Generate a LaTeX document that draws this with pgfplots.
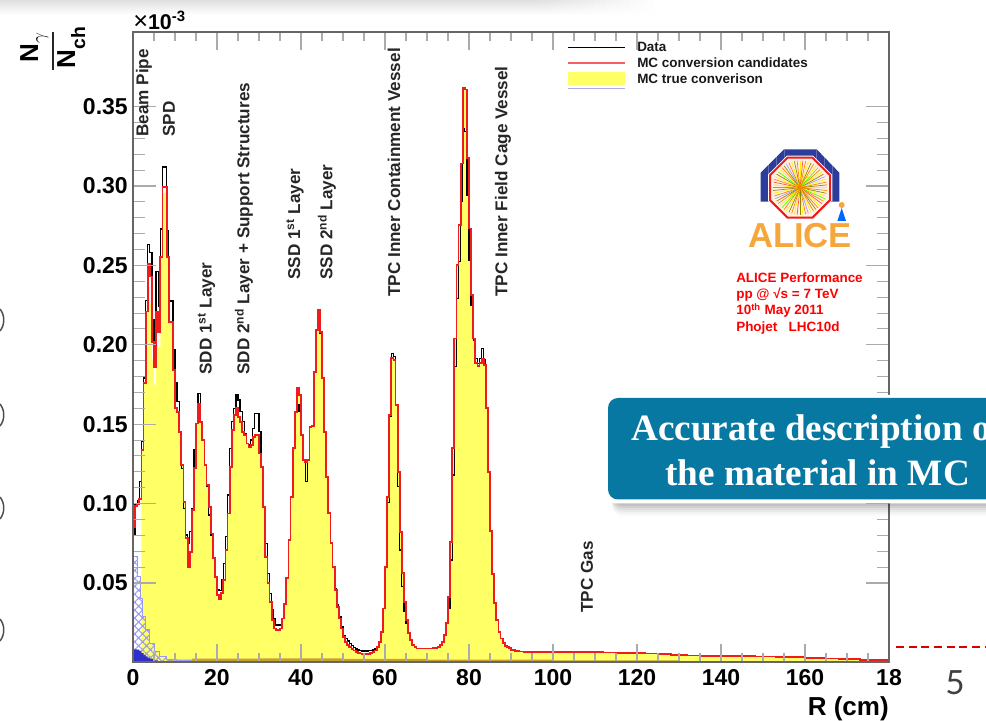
\documentclass[border=0pt]{standalone}
\usepackage{fontspec}
\setmainfont{Liberation Sans}
\newfontfamily\serifb{Liberation Serif}
\newfontfamily\latof{Lato}
\usepackage{pgfplots}
\usepackage{pgfplotstable}
\pgfplotsset{compat=1.18}
\usetikzlibrary{patterns.meta}
\definecolor{rootred}{HTML}{EE1C1C}
\definecolor{rootyellow}{HTML}{FFFF66}
\definecolor{hatch}{HTML}{9A9AF0}
\definecolor{solidblue}{HTML}{3030C8}
\definecolor{bandbrown}{HTML}{C8A030}
\definecolor{teal}{HTML}{0778A2}
\definecolor{axisgray}{HTML}{666666}
\definecolor{tickgray}{HTML}{ABABAB}
\definecolor{aliceorange}{HTML}{F7A63C}
\definecolor{aliceblue}{HTML}{2B3C9B}
\newcommand{\fs}[1]{\fontsize{#1}{#1}\selectfont\bfseries}
% x  data  mc  true
\pgfplotstableread{
x data mc tr
0 .0802 .0855 0
0.5 .100 .0985 0
1 .102 .100 0
1.5 .114 .103 0
2 .139 .134 .134
2.5 .179 .176 .176
3 .228 .221 .221
3.5 .263 .251 .2366
4 .258 .243 .226
4.5 .2156 .202 .190
5 .202 .186 .175
5.5 .246 .221 .200
6 .224 .208 .198
6.5 .273 .2555 .2555
7 .312 .2996 .2955
7.5 .312 .2996 .2955
8 .272 .2555 .2555
8.5 .228 .2146 .2146
9 .2275 .2146 .2146
9.5 .197 .184 .184
10 .176 .160 .160
10.5 .1642 .1579 .1579
11 .1453 .1453 .1453
11.5 .1222 .1243 .1243
12 .097 .1012 .1012
12.5 .0802 .0781 .0781
13 .0749 .0603 .0603
13.5 .0823 .0697 .0697
14 .097 .0959 .0959
14.5 .1337 .1222 .1222
15 .1505 .1505 .1505
15.5 .1694 .1631 .1631
16 .1516 .1516 .1516
16.5 .140 .140 .140
17 .1243 .1243 .1243
17.5 .1106 .1117 .1117
18 .0928 .098 .098
18.5 .0802 .0812 .0812
19 .0655 .0655 .0655
19.5 .054 .054 .054
20 .0456 .0424 .0424
20.5 .0451 .0397 .0397
21 .0519 .0435 .0435
21.5 .0623 .0519 .0519
22 .0791 .0707 .0707
22.5 .1054 .0938 .0938
23 .1348 .1232 .1232
23.5 .1516 .1463 .1463
24 .160 .1558 .1558
24.5 .1684 .160 .160
25 .1652 .1547 .1547
25.5 .1579 .1516 .1516
26 .1516 .1453 .1453
26.5 .1442 .1432 .1432
27 .1379 .1379 .1379
27.5 .1369 .1358 .1358
28 .140 .1369 .1369
28.5 .1474 .1421 .1421
29 .1568 .1432 .1432
29.5 .1568 .1432 .1432
30 .1453 .1316 .1316
30.5 .1232 .1232 .1232
31 .0981 .0981 .0981
31.5 .075 .0666 .0666
32 .0561 .0498 .0498
32.5 .0435 .0382 .0382
33 .033 .0267 .0267
33.5 .0277 .0214 .0214
34 .0235 .0204 .0204
34.5 .0235 .0204 .0204
35 .0235 .0214 .0214
35.5 .0277 .0277 .0277
36 .0368 .0368 .0368
36.5 .0529 .0529 .0529
37 .0771 .0771 .0771
37.5 .1044 .1044 .1044
38 .1348 .1348 .1348
38.5 .1579 .1579 .1579
39 .1621 .1726 .1726
39.5 .1579 .1684 .1684
40 .1432 .1432 .1432
40.5 .1274 .1274 .1274
41 .1138 .1264 .1264
41.5 .1274 .1274 .1274
42 .1484 .1484 .1484
42.5 .1489 .1489 .1489
43 .1831 .1831 .1831
43.5 .2093 .2093 .2093
44 .2104 .2219 .2219
44.5 .2072 .2083 .2083
45 .1789 .1789 .1789
45.5 .1453 .1453 .1453
46 .1169 .1169 .1169
46.5 .0939 .0939 .0939
47 .075 .075 .075
47.5 .0603 .0603 .0603
48 .0466 .0456 .0456
48.5 .0361 .0351 .0351
49 .0287 .0277 .0277
49.5 .0224 .0214 .0214
50 .017 .016 .016
50.5 .015 .013 .013
51 .0135 .0112 .0112
51.5 .012 .0098 .0098
52 .0105 .0085 .0085
52.5 .0095 .0075 .0075
53 .0085 .0067 .0067
53.5 .0078 .006 .006
54 .0073 .0056 .0056
54.5 .0072 .0054 .0054
55 .0072 .0053 .0053
55.5 .0072 .0053 .0053
56 .0073 .0055 .0055
56.5 .0075 .0058 .0058
57 .0078 .0063 .0063
57.5 .0085 .0075 .0075
58 .010 .0095 .0095
58.5 .013 .013 .013
59 .0193 .0193 .0193
59.5 .034 .034 .034
60 .0603 .0603 .0603
60.5 .1006 .1043 .1043
61 .1548 .1558 .1558
61.5 .1946 .1915 .1915
62 .1925 .1904 .1904
62.5 .1621 .1621 .1621
63 .1106 .1201 .1201
63.5 .0708 .0823 .0823
64 .0477 .0561 .0561
64.5 .0319 .0382 .0382
65 .0246 .0267 .0267
65.5 .0183 .0183 .0183
66 .0141 .0141 .0141
66.5 .0109 .0109 .0109
67 .0099 .0099 .0099
67.5 .0088 .0088 .0088
70 .0088 .0088 .0088
71.5 .009 .009 .009
72 .0092 .0092 .0092
72.5 .0099 .0099 .0099
73 .0109 .0109 .0109
73.5 .013 .013 .013
74 .0172 .0172 .0172
74.5 .0246 .0246 .0246
75 .034 .0414 .0414
75.5 .0645 .076 .076
76 .118 .1348 .1348
76.5 .1862 .204 .204
77 .2292 .2502 .2502
77.5 .2523 .2754 .2754
78 .2901 .3142 .3142
78.5 .3363 .3621 .3621
79 .3342 .3608 .3608
79.5 .2943 .3174 .3174
80 .2534 .2733 .2733
80.5 .225 .2313 .2313
81 .203 .204 .204
81.5 .1914 .1883 .1883
82 .1883 .1868 .1868
82.5 .1914 .1883 .1883
83 .1977 .1914 .1914
83.5 .1904 .1872 .1872
84 .160 .160 .160
84.5 .1201 .1201 .1201
85 .0829 .0829 .0829
85.5 .0556 .0556 .0556
86 .0372 .0372 .0372
86.5 .0267 .0267 .0267
87 .0193 .0193 .0193
87.5 .0151 .0151 .0151
88 .012 .012 .012
88.5 .0105 .0105 .0105
89 .0099 .0099 .0099
89.5 .009 .009 .009
90 .0078 .0078 .0078
91 .0072 .0072 .0072
92 .0069 .0069 .0069
93 .0067 .0067 .0067
95 .0066 .0066 .0066
97 .0065 .0065 .0065
99 .0064 .0064 .0064
101 .0064 .0064 .0064
103 .0066 .0065 .0065
105 .0066 .0066 .0066
107 .0064 .0064 .0064
110 .0063 .0063 .0063
112 .0062 .0062 .0062
115 .0061 .0061 .0061
118 .006 .006 .006
120 .0059 .0059 .0059
122 .0056 .0056 .0056
125 .0051 .0051 .0051
128 .0047 .0047 .0047
130 .0045 .0045 .0045
132 .0044 .0044 .0044
135 .0043 .0042 .0042
138 .004 .004 .004
140 .0039 .0039 .0039
143 .0039 .0038 .0038
145 .0038 .0038 .0038
148 .0037 .0037 .0037
150 .0037 .0037 .0037
153 .0035 .0035 .0035
155 .0034 .0034 .0034
158 .0032 .0032 .0032
160 .003 .003 .003
163 .0027 .0027 .0027
165 .0024 .0024 .0024
168 .0021 .0021 .0021
170 .0019 .0019 .0019
173 .0017 .0017 .0017
175 .0015 .0015 .0015
178 .0013 .0013 .0013
180 .0011 .0011 .0011
}\hist
\begin{document}
\begin{tikzpicture}
\useasboundingbox (0,0) rectangle (739.5pt,540.75pt);
\clip (0,0) rectangle (739.5pt,540.75pt);
% screenshot band at the top
\begin{scope}[x=.75pt,y=-.75pt,shift={(0,540.75pt)}]
\shade[top color=black!12,bottom color=white] (0,0) rectangle (660,15);
\foreach \i in {0,...,19}
  \fill[white,opacity=\i*0.05+0.05] (540+\i*6,0) rectangle (546+\i*6,15);
\fill[white] (660,0) rectangle (670,15);
\end{scope}
\begin{axis}[
  at={(99.75pt,43.95pt)},anchor=south west,scale only axis,
  width=567pt,height=472.8pt,
  xmin=0,xmax=180,ymin=0,ymax=.397,
  axis on top,
  axis line style={draw=axisgray,line width=1.4pt},
  xtick=\empty,
  ytick={.05,.10,.15,.20,.25,.30,.35},
  minor y tick num=4,
  major tick length=17.25pt,minor tick length=9pt,
  ytick pos=both,yticklabel pos=left,
  tick style={draw=tickgray,line width=.8pt},
  yticklabel style={font=\fs{17.25},inner sep=0pt,xshift=-3.75pt,
    /pgf/number format/.cd,fixed,fixed zerofill,precision=2,assume math mode=true},
  scaled y ticks=false,
]
\addplot[const plot,draw=none,fill=rootyellow] table[x=x,y=tr] {\hist} \closedcycle;
\addplot[const plot,draw=none,fill=bandbrown] coordinates {(8,.0012)(10,.0018)(14,.0024)(30,.0026)(50,.0022)(70,.0018)(100,.0012)(130,.0008)} \closedcycle;
\addplot[const plot,draw=hatch,line width=.8pt,pattern={Lines[angle=45,distance=4.2pt,line width=.8pt]},pattern color=hatch] coordinates {(0,.0666)(1,.054)(1.7,.0403)(2.3,.0288)(2.9,.0204)(4,.012)(5.2,.0067)(6.4,.0036)(8,.0019)(10.4,.0012)(14,.0006)} \closedcycle;
\addplot[const plot,draw=hatch,line width=.8pt,pattern={Lines[angle=-45,distance=4.2pt,line width=.8pt]},pattern color=hatch] coordinates {(0,.0666)(1,.054)(1.7,.0403)(2.3,.0288)(2.9,.0204)(4,.012)(5.2,.0067)(6.4,.0036)(8,.0019)(10.4,.0012)(14,.0006)} \closedcycle;
\addplot[const plot,draw=none,fill=solidblue] coordinates {(0,.0082)(1,.008)(1.5,.0072)(2,.006)(2.5,.0048)(3,.0038)(3.5,.003)(4,.0022)(5,.0012)(6,.0007)(8,.0005)} \closedcycle;
\addplot[draw=solidblue!60!tickgray,line width=.8pt] coordinates {(0,.0004)(180,.0004)};
\addplot[const plot,draw=black,line width=1pt] table[x=x,y=data] {\hist};
\addplot[const plot,draw=rootred,line width=1.35pt] table[x=x,y=mc] {\hist};
\end{axis}
% x ticks
\begin{axis}[
  at={(99.75pt,43.95pt)},anchor=south west,scale only axis,
  width=567pt,height=472.8pt,
  xmin=0,xmax=180,ymin=0,ymax=.397,
  axis line style={draw=axisgray,line width=1.4pt},
  ytick=\empty,
  xtick={0,20,40,60,80,100,120,140,160,180},
  xticklabels={0,20,40,60,80,100,120,140,160,18\hspace{12.5pt}},
  minor x tick num=3,
  major tick length=13.5pt,minor tick length=6.75pt,
  xtick pos=both,xticklabel pos=lower,
  tick style={draw=tickgray,line width=.8pt},
  xticklabel style={font=\fs{17.25},inner sep=0pt,yshift=-5.25pt},
]
\end{axis}
\begin{scope}[x=.75pt,y=-.75pt,shift={(0,540.75pt)}]
% legend
\draw[black,line width=.8pt] (568,47.3) -- (625,47.3);
\draw[rootred!70,line width=1.1pt] (568,63) -- (625,63);
\fill[rootyellow] (568,72.5) rectangle (625,85);
\draw[solidblue!40,line width=.6pt] (568,88.5) -- (625,88.5);
\tikzset{lg/.style={anchor=base west,inner sep=0pt,font=\fs{10.1},text=black!90}}
\node[lg] at (637,52) {Data};
\node[lg] at (637,68) {MC conversion candidates};
\node[lg] at (637,84) {MC true converison};
% labels
\node[anchor=north east,font=\fs{19.5},inner sep=0pt] at (889,696) {R (cm)};
\node[anchor=base west,inner sep=0pt] at (133,30) {{\fontsize{19}{19}\selectfont ×}{\fontsize{16}{16}\selectfont\bfseries 10\textsuperscript{-3}}};
% y-axis title
\tikzset{yl/.style={rotate=90,anchor=base west,inner sep=0pt,font=\fs{19.5}}}
\node[yl] at (38,62.5) {N\raisebox{-5pt}{$\scriptstyle\gamma$}};
\draw[black!85,line width=1.4pt] (53,32) -- (53,70);
\node[yl] at (75,68.5) {N\raisebox{-7.5pt}{\fs{14.5}ch}};
% detector labels
\tikzset{det/.style={rotate=90,anchor=west,inner sep=0pt,font=\fs{12.85},text=black!85}}
\node[det] at (144,137) {Beam Pipe};
\node[det] at (169,137) {SPD};
\node[det] at (206.5,375) {SDD 1\textsuperscript{st} Layer};
\node[det] at (244,375) {SDD 2\textsuperscript{nd} Layer + Support Structures};
\node[det] at (295,280) {SSD 1\textsuperscript{st} Layer};
\node[det] at (327,280) {SSD 2\textsuperscript{nd} Layer};
\node[det] at (394,297) {TPC Inner Containment Vessel};
\node[det] at (503,297) {TPC Inner Field Cage Vessel};
\node[det] at (587,613) {TPC Gas};
% ALICE logo
\fill[aliceblue] (760.7,201.7) -- (760.7,172.7) -- (784,149.3) -- (816.7,149.3) -- (839.3,172.7) -- (839.3,201.7) -- cycle;
\foreach \v in {768,776,784,816,824,832}
  \draw[white,opacity=.25,line width=.3pt] (\v,150) -- (\v,201.7);
\fill[white] (787,155.7) -- (813,155.7) -- (832,174.7) -- (832,200.7) -- (813,219.7) -- (787,219.7) -- (768,200.7) -- (768,174.7) -- cycle;
\fill[orange!12] (787.6,157.7) -- (812.4,157.7) -- (830,175.3) -- (830,200.1) -- (812.4,217.7) -- (787.6,217.7) -- (770,200.1) -- (770,175.3) -- cycle;
\foreach \a/\c in {0/yellow,6/orange,12/olive,18/yellow,24/green!70!yellow,30/orange,36/red!70,42/yellow,48/orange,54/olive,60/orange,66/yellow,72/blue!40,78/orange,84/yellow,90/olive,96/red!70,102/yellow,108/orange,114/olive,120/yellow,126/orange,132/green!70!yellow,138/yellow,144/orange,150/olive,156/blue!40,162/orange,168/yellow,174/olive,180/orange,186/yellow,192/red!70,198/orange,204/yellow,210/olive,216/green!70!yellow,222/yellow,228/orange,234/olive,240/blue!40,246/orange,252/yellow,258/olive,264/orange,270/yellow,276/red!70,282/orange,288/yellow,294/olive,300/orange,306/yellow,312/green!70!yellow,318/orange,324/yellow,330/olive,336/blue!40,342/yellow,348/orange,354/olive}
  \draw[\c,line width=.5pt] (800,187.7) -- ++(\a:27);
\fill[orange] (800,187.7) circle (3);
\draw[rootred,line width=1.5pt] (787.6,157.7) -- (812.4,157.7) -- (830,175.3) -- (830,200.1) -- (812.4,217.7) -- (787.6,217.7) -- (770,200.1) -- (770,175.3) -- cycle;
\fill[aliceorange] (841.7,205) circle (3);
\fill[blue!60!cyan] (841.7,208) -- (846,221) -- (837.4,221) -- cycle;
\node[inner sep=0pt,font=\fs{26},text=aliceorange] at (800,236) {ALICE};
% red notes
\tikzset{rn/.style={anchor=base west,inner sep=0pt,font=\fs{10.1},text=red}}
\node[rn] at (736,283) {ALICE Performance};
\node[rn] at (736,299) {pp @ √s = 7 TeV};
\node[rn] at (736,315) {10\textsuperscript{th} May 2011};
\node[rn] at (736,332) {Phojet\ \ \ LHC10d};
% callout box
\foreach \b/\o in {516/.02,514/.03,512/.04,510/.05,508/.06,506/.07}
  \fill[black,opacity=\o,rounded corners=8pt] (612,408) rectangle (1000,\b);
\fill[white,rounded corners=8pt] (604.5,395) rectangle (1000,503.5);
\fill[teal,rounded corners=7.5pt] (608,398) rectangle (1000,499.5);
\node[anchor=base west,inner sep=0pt,text=white] at (631,441) {\serifb\fontsize{27.9}{30}\selectfont\bfseries Accurate description of};
\node[anchor=base,inner sep=0pt,text=white] at (817.5,486) {\serifb\fontsize{27.9}{30}\selectfont\bfseries the material in MC};
% rest of the slide
\draw[red!85!black,line width=.9pt,dash pattern=on 6pt off 3.5pt] (896,647) -- (986,647);
\node[inner sep=0pt,text=black!75] at (955,683) {\latof\fontsize{25}{25}\selectfont 5};
\foreach \y in {320,415,508,630}
  \draw[black!70,line width=1.1pt] (0,\y-11) .. controls (5,\y-5) and (5,\y+5) .. (0,\y+11);
\end{scope}
\end{tikzpicture}
\end{document}
